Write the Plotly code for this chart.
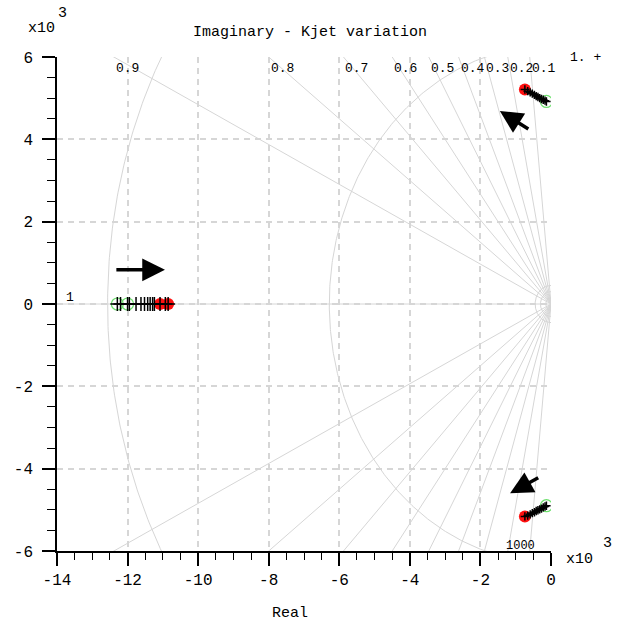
import numpy as np
import plotly.graph_objects as go

# ---------------- data (units: x10^3) ----------------
zeta_values = [0.1, 0.2, 0.3, 0.4, 0.5, 0.6, 0.7, 0.8, 0.9]
zeta_labels = ["0.1", "0.2", "0.3", "0.4", "0.5", "0.6", "0.7", "0.8", "0.9"]
wn_radii = [6.283, 12.566]
small_radii = [0.15, 0.3, 0.45]

# real-axis branch
real_x = [-12.29, -12.2, -12.0, -11.95, -11.76, -11.62, -11.52, -11.43, -11.36,
          -11.29, -11.24, -11.08, -10.93, -10.85]
real_y = [0.0] * len(real_x)
real_start_x = [-12.29, -12.0]
real_end_x = [-11.08, -10.85]

# upper complex branch
up_x = [-0.13, -0.17, -0.22, -0.27, -0.32, -0.37, -0.42, -0.47, -0.53, -0.59, -0.66, -0.74]
up_y = [4.92, 4.94, 4.96, 4.98, 5.00, 5.03, 5.05, 5.08, 5.11, 5.14, 5.17, 5.21]
# lower complex branch
lo_x = [-0.13, -0.17, -0.22, -0.27, -0.32, -0.37, -0.42, -0.47, -0.53, -0.59, -0.66, -0.74]
lo_y = [-4.90, -4.92, -4.94, -4.97, -4.99, -5.01, -5.03, -5.06, -5.08, -5.11, -5.14, -5.16]

x_ticks = [-14, -12, -10, -8, -6, -4, -2, 0]
y_ticks = [-6, -4, -2, 0, 2, 4, 6]

XMIN, XMAX, YMIN, YMAX = -14, 0, -6, 6
GRID = "#d6d6d6"
FONT = "Liberation Mono"

fig = go.Figure()

# damping lines
for z in zeta_values:
    th = np.arccos(z)
    R = 40
    fig.add_trace(go.Scatter(x=[0, -R * np.cos(th)], y=[0, R * np.sin(th)], mode="lines",
                             line=dict(color=GRID, width=1), hoverinfo="skip", showlegend=False))
    fig.add_trace(go.Scatter(x=[0, -R * np.cos(th)], y=[0, -R * np.sin(th)], mode="lines",
                             line=dict(color=GRID, width=1), hoverinfo="skip", showlegend=False))
fig.add_trace(go.Scatter(x=[0, XMIN], y=[0, 0], mode="lines",
                         line=dict(color=GRID, width=1), hoverinfo="skip", showlegend=False))

# natural frequency circles
for r in wn_radii + small_radii:
    t = np.linspace(np.pi / 2, 3 * np.pi / 2, 400)
    fig.add_trace(go.Scatter(x=r * np.cos(t), y=r * np.sin(t), mode="lines",
                             line=dict(color=GRID, width=1), hoverinfo="skip", showlegend=False))

# loci
for xs, ys, w in [(real_x, real_y, 1.5), (up_x, up_y, 3.5), (lo_x, lo_y, 3.5)]:
    fig.add_trace(go.Scatter(x=xs, y=ys, mode="lines", line=dict(color="black", width=w),
                             hoverinfo="skip", showlegend=False))

# start (green open) markers
fig.add_trace(go.Scatter(x=real_start_x + [up_x[0], lo_x[0]], y=[0, 0, up_y[0], lo_y[0]],
                         mode="markers",
                         marker=dict(symbol="circle-open", size=12, color="#6ee06e", line=dict(width=1.2)),
                         showlegend=False))
# end (red filled) markers
fig.add_trace(go.Scatter(x=real_end_x + [up_x[-1], lo_x[-1]], y=[0, 0, up_y[-1], lo_y[-1]],
                         mode="markers", marker=dict(symbol="circle", size=12, color="#ff1010"),
                         showlegend=False))
# plus markers along loci
for xs, ys, s in [(real_x, real_y, 10), (up_x, up_y, 6), (lo_x, lo_y, 6)]:
    fig.add_trace(go.Scatter(x=xs, y=ys, mode="markers",
                             marker=dict(symbol="cross-thin", size=s,
                                         line=dict(color="black", width=1.5)),
                             showlegend=False))

L, R_, T, B = 57, 73, 57, 72
W, H = 624, 623
PW, PH = W - L - R_, H - T - B


def px(X):
    return (X - L) / PW


def py(Y):
    return (H - B - Y) / PH


ann = []
# damping labels at top
for z, lab in zip(zeta_values, zeta_labels):
    th = np.arccos(z)
    xi = -YMAX / np.tan(th)
    ann.append(dict(x=xi, y=5.73, xref="x", yref="y", text=lab, showarrow=False,
                    xanchor="left", yanchor="middle", font=dict(family=FONT, size=13, color="black")))
ann.append(dict(x=px(70), y=py(297), xref="paper", yref="paper", text="1", showarrow=False,
                xanchor="center", yanchor="middle", font=dict(family=FONT, size=13, color="black")))
ann.append(dict(x=px(520), y=py(546), xref="paper", yref="paper", text="1000", showarrow=False,
                xanchor="center", yanchor="middle", font=dict(family=FONT, size=12, color="black")))
ann.append(dict(x=px(568), y=py(58), xref="paper", yref="paper", text="1. +", showarrow=False,
                xanchor="left", yanchor="middle", font=dict(family=FONT, size=13, color="black")))

# title and axis labels
ann.append(dict(x=px(310), y=py(33), xref="paper", yref="paper", text="Imaginary - Kjet variation",
                showarrow=False, xanchor="center", yanchor="middle",
                font=dict(family=FONT, size=15, color="black")))
ann.append(dict(x=px(290), y=py(613), xref="paper", yref="paper", text="Real",
                showarrow=False, xanchor="center", yanchor="middle",
                font=dict(family=FONT, size=15, color="black")))
ann.append(dict(x=px(41), y=py(29), xref="paper", yref="paper", text="x10",
                showarrow=False, xanchor="center", yanchor="middle",
                font=dict(family=FONT, size=15, color="black")))
ann.append(dict(x=px(62), y=py(14), xref="paper", yref="paper", text="3",
                showarrow=False, xanchor="center", yanchor="middle",
                font=dict(family=FONT, size=15, color="black")))
ann.append(dict(x=px(579), y=py(559), xref="paper", yref="paper", text="x10",
                showarrow=False, xanchor="center", yanchor="middle",
                font=dict(family=FONT, size=15, color="black")))
ann.append(dict(x=px(607), y=py(543), xref="paper", yref="paper", text="3",
                showarrow=False, xanchor="center", yanchor="middle",
                font=dict(family=FONT, size=15, color="black")))

# direction arrows
for hx, hy, tx, ty in [(-10.94, 0.83, -12.36, 0.83), (-1.45, 4.69, -0.6, 4.23), (-1.16, -4.6, -0.32, -4.2)]:
    ann.append(dict(x=hx, y=hy, ax=tx, ay=ty, xref="x", yref="y", axref="x", ayref="y",
                    showarrow=True, arrowhead=2, arrowsize=1.3, arrowwidth=3.5, arrowcolor="black", text=""))

fig.update_layout(
    width=W, height=H,
    margin=dict(l=L, r=R_, t=T, b=B),
    plot_bgcolor="white", paper_bgcolor="white",
    showlegend=False,
    annotations=ann,
    font=dict(family=FONT, size=15, color="black"),
)
fig.update_xaxes(range=[XMIN, XMAX], tickvals=x_ticks, ticktext=[str(v) for v in x_ticks],
                 showline=True, linecolor="black", linewidth=1.5, ticks="outside", ticklen=13,
                 tickwidth=1.5, tickcolor="black", zeroline=False,
                 showgrid=True, gridcolor=GRID, griddash="6px,5px", gridwidth=1.5,
                 minor=dict(dtick=0.5, tick0=0, ticks="outside", ticklen=7, tickcolor="black",
                            tickwidth=1, showgrid=False),
                 tickfont=dict(family=FONT, size=16, color="black"))
fig.update_yaxes(range=[YMIN, YMAX], tickvals=y_ticks, ticktext=[str(v) for v in y_ticks],
                 showline=True, linecolor="black", linewidth=1.5, ticks="outside", ticklen=13,
                 tickwidth=1.5, tickcolor="black", zeroline=False, ticklabelstandoff=6,
                 showgrid=True, gridcolor=GRID, griddash="6px,5px", gridwidth=1.5,
                 minor=dict(dtick=0.5, tick0=0, ticks="outside", ticklen=8, tickcolor="black",
                            tickwidth=1, showgrid=False),
                 tickfont=dict(family=FONT, size=16, color="black"))

fig.write_html("out.html")
